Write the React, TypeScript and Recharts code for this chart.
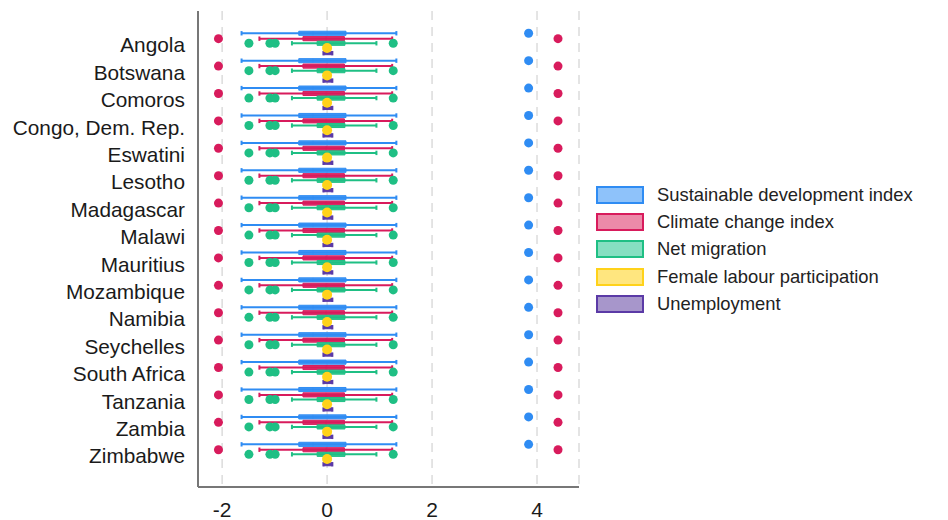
// Box plots by country: five indicators per row, horizontal
import { ScatterChart, Scatter, XAxis, YAxis, CartesianGrid, ReferenceLine, ReferenceArea } from 'recharts'

const countries = [
  'Angola', 'Botswana', 'Comoros', 'Congo, Dem. Rep.', 'Eswatini', 'Lesotho', 'Madagascar', 'Malawi',
  'Mauritius', 'Mozambique', 'Namibia', 'Seychelles', 'South Africa', 'Tanzania', 'Zambia', 'Zimbabwe',
]
const seriesNames = [
  'Sustainable development index', 'Climate change index', 'Net migration',
  'Female labour participation', 'Unemployment',
]
// box statistics per series (same for every country in the picture)
const whiskerLow = [-1.63, -1.29, -0.67, 0, -0.07]
const q1 = [-0.54, -0.46, -0.19, 0, -0.07]
const median = [-0.27, -0.02, 0.05, 0, 0.01]
const q3 = [0.36, 0.33, 0.34, 0, 0.1]
const whiskerHigh = [1.32, 1.24, 0.94, 0, 0.1]
const outliers = [[3.84], [-2.07, 4.4], [-1.49, -1.09, -0.99, 1.26], [0], []]
const xTicks = [-2, 0, 2, 4]

const colors = ['#2f8cf3', '#d81b5c', '#1fbf84', '#ffd21a', '#5b3aa6']
const legendFill = ['#8ec2fa', '#ec8aa9', '#86dfc1', '#ffe67f', '#a796cb']
const lane = [-0.427, -0.23, -0.062, 0.11, 0.3]
const boxHalf = [0.075, 0.075, 0.075, 0.075, 0.055]
const font = "'Liberation Sans', Arial, sans-serif"

export default function App() {
  const marks: any[] = []
  countries.forEach((c, i) => {
    seriesNames.forEach((s, k) => {
      if (q3[k] === q1[k]) return
      const y = i + lane[k]
      const h = boxHalf[k]
      const key = `${i}-${k}`
      if (whiskerHigh[k] > whiskerLow[k]) {
        marks.push(
          <ReferenceLine key={`w${key}`} segment={[{ x: whiskerLow[k], y }, { x: whiskerHigh[k], y }]}
            stroke={colors[k]} strokeWidth={2} ifOverflow="visible" />,
          <ReferenceLine key={`cl${key}`} segment={[{ x: whiskerLow[k], y: y - 0.08 }, { x: whiskerLow[k], y: y + 0.08 }]}
            stroke={colors[k]} strokeWidth={2} ifOverflow="visible" />,
          <ReferenceLine key={`ch${key}`} segment={[{ x: whiskerHigh[k], y: y - 0.08 }, { x: whiskerHigh[k], y: y + 0.08 }]}
            stroke={colors[k]} strokeWidth={2} ifOverflow="visible" />,
        )
      }
      marks.push(
        <ReferenceArea key={`b${key}`} x1={q1[k]} x2={q3[k]} y1={y - h} y2={y + h}
          fill={colors[k]} fillOpacity={0.9} stroke={colors[k]} strokeWidth={1} ifOverflow="visible" />,
        <ReferenceLine key={`m${key}`} segment={[{ x: median[k], y: y - h }, { x: median[k], y: y + h }]}
          stroke={colors[k]} strokeOpacity={0.6} strokeWidth={1} ifOverflow="visible" />,
      )
    })
  })

  const dots = seriesNames.map((s, k) =>
    countries.flatMap((c, i) => outliers[k].map((v) => ({ x: v, y: i + lane[k] }))),
  )

  return (
    <div style={{ position: 'absolute', left: 0, top: 0, width: 948, height: 520, background: '#fff', fontFamily: font }}>
      <ScatterChart width={948} height={520} margin={{ top: 11, right: 369, bottom: 3, left: 0 }}>
        <CartesianGrid horizontal={false} stroke="#dcdcdc" strokeDasharray="9 7" strokeWidth={1.5} />
        <XAxis type="number" dataKey="x" domain={[-2.46, 4.8]} ticks={xTicks} allowDataOverflow
          tickLine={false} tickMargin={9} height={30} axisLine={{ stroke: '#777', strokeWidth: 2 }}
          tick={{ fill: '#1a1a1a', fontSize: 21, fontFamily: font }} />
        <YAxis type="number" dataKey="y" domain={[-1.24, 16.13]} reversed allowDataOverflow
          ticks={countries.map((c, i) => i)} interval={0} tickFormatter={(v: number) => countries[Math.round(v)]}
          width={198} tickLine={false} tickMargin={7} axisLine={{ stroke: '#777', strokeWidth: 2 }}
          tick={{ fill: '#1a1a1a', fontSize: 20.8, fontFamily: font }} />
        {marks}
        {dots.map((d, k) => (
          <Scatter key={k} name={seriesNames[k]} data={d} fill={colors[k]} isAnimationActive={false}
            shape={(p: any) => <circle cx={p.cx} cy={p.cy} r={k === 3 ? 5 : 4.5} fill={colors[k]} />} />
        ))}
      </ScatterChart>
      <div style={{ position: 'absolute', left: 596, top: 181 }}>
        {seriesNames.map((s, k) => (
          <div key={s} style={{ display: 'flex', alignItems: 'center', height: 27.3 }}>
            <div style={{ width: 44, height: 14, background: legendFill[k], border: `2px solid ${colors[k]}`, marginRight: 13 }} />
            <span style={{ fontSize: 18.4, color: '#222', whiteSpace: 'nowrap' }}>{s}</span>
          </div>
        ))}
      </div>
    </div>
  )
}
